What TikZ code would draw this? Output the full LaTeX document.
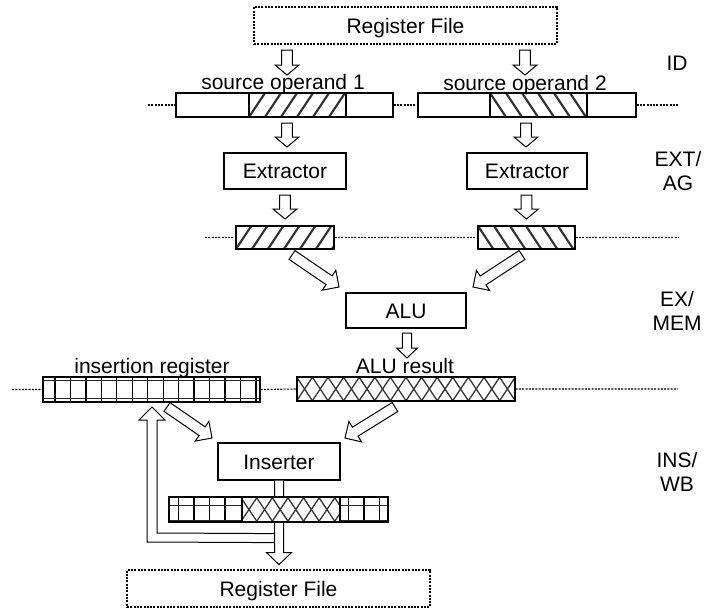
\documentclass[tikz,border=0pt]{standalone}
\usepackage{fontspec}
\setmainfont{Liberation Sans}
\usetikzlibrary{calc}
\tikzset{
  lbl/.style={font=\fontsize{21}{24}\selectfont, inner sep=0pt, text height=15pt, text depth=0pt},
  box/.style={lbl, draw, line width=1.2pt, minimum height=36pt},
  rfbox/.style={lbl, draw, line width=1.1pt, dash pattern=on 2pt off 1.3pt, minimum width=303pt, minimum height=37pt},
  bar/.style={draw, line width=1.2pt, inner sep=0pt, minimum height=24pt},
  dotline/.style={line width=1.1pt, dash pattern=on 2pt off 1.3pt},
  fat/.style={draw, line width=1pt, fill=white, line join=miter},
  fatline/.style={draw, line width=1pt, line join=miter},
  hatch/.style={line width=2.1pt, black!80},
  xhatch/.style={line width=1.3pt, black!80},
  gridv/.style={line width=1.3pt, black},
  gridh/.style={line width=1pt, black!85},
  stage/.style={font=\fontsize{21}{24}\selectfont, align=center, inner sep=0pt}
}
% block arrow: shaft half width, head half width, head length, from, to
\newcommand\fatarr[5]{%
  \coordinate (fH) at ($(#5)!#3!(#4)$);
  \draw[fat] ($(#4)!#1!90:(#5)$) -- ($(fH)!#1!-90:(#4)$) -- ($(fH)!#2!-90:(#4)$) -- (#5)
    -- ($(fH)!#2!90:(#4)$) -- ($(fH)!#1!90:(#4)$) -- ($(#4)!#1!-90:(#5)$) -- cycle;}
\begin{document}
\begin{tikzpicture}[x=1pt,y=-1pt]
\useasboundingbox (0,0) rectangle (704,608);

% ---------- hatching (drawn before the borders) ----------
\begin{scope}
  \clip (249,93) rectangle (346,117);
  \foreach \k in {233,249,...,350} \draw[hatch] (\k,117) -- ++(16,-24);
\end{scope}
\begin{scope}
  \clip (490,93) rectangle (587,117);
  \foreach \k in {474,490,...,590} \draw[hatch] (\k,93) -- ++(16,24);
\end{scope}
\begin{scope}
  \clip (236,226) rectangle (334,249);
  \foreach \k in {220,236,...,340} \draw[hatch] (\k,249) -- ++(15.3,-23);
\end{scope}
\begin{scope}
  \clip (478,226) rectangle (575,249);
  \foreach \k in {462,478,...,580} \draw[hatch] (\k,226) -- ++(15.3,23);
\end{scope}
\begin{scope}
  \clip (297,377) rectangle (515,401);
  \foreach \k in {281,296.6,...,520} {
    \draw[xhatch] (\k,401) -- ++(16,-24);
    \draw[xhatch] (\k,377) -- ++(16,24);
  }
\end{scope}
\begin{scope}
  \clip (43,377) rectangle (260,402);
  \foreach \k in {0,...,13} \draw[gridv] ({55+15.45*\k},377) -- ++(0,25);
  \draw[gridh] (43,380.5) -- (260,380.5) (43,398) -- (260,398);
\end{scope}

% ---------- boxes ----------
\node[rfbox] (rf1) at (405.5,25.5) {Register File};
\node[bar, minimum width=217pt] (op1) at (284.5,105) {};
\draw[line width=1.2pt] (249,93) -- (249,117) (346,93) -- (346,117);
\node[bar, minimum width=218pt] (op2) at (527,105) {};
\draw[line width=1.2pt] (490,93) -- (490,117) (587,93) -- (587,117);
\node[lbl] (op1l) at (283,82) {source operand 1};
\node[lbl] (op2l) at (525,82.5) {source operand 2};

\node[box, minimum width=122pt] (ext1) at (285,171) {Extractor};
\node[box, minimum width=120pt] (ext2) at (527,171) {Extractor};

\node[bar, minimum width=98pt, minimum height=23pt] (f1) at (285,237.5) {};
\node[bar, minimum width=97pt, minimum height=23pt] (f2) at (526.5,237.5) {};

\node[box, minimum width=120pt, minimum height=35pt] (alu) at (406,310.5) {ALU};

\node[bar, minimum width=218pt] (res) at (406,389) {};
\node[bar, minimum width=217pt, minimum height=25pt] (insreg) at (151.5,389.5) {};
\node[lbl] (insregl) at (152,366) {insertion register};
\node[lbl] (resl) at (405,366) {ALU result};

\node[box, minimum width=122pt, minimum height=37pt] (ins) at (279,461.5) {Inserter};

% ---------- inserter output and feedback ----------
\draw[fat] ($(ins.south)+(-4.5,0)$) -- ++(0,72) -- ++(-8,0) -- ++(12.5,12) -- ++(12.5,-12)
  -- ++(-8,0) -- ($(ins.south)+(4.5,0)$);
\coordinate (fbtip) at (152,407);
\draw[fatline] ($(ins.south)+(-4.5,62)$) -- ($(fbtip)+(-5,135)$) -- ($(fbtip)+(-5,13)$)
  -- ($(fbtip)+(-13,13)$) -- (fbtip) -- ($(fbtip)+(13,13)$) -- ($(fbtip)+(5,13)$)
  -- ($(fbtip)+(5,126)$) -- ($(ins.south)+(-4.5,53)$);

% ---------- bottom row ----------
\fill[white] (169,497) rectangle (388,522);
\begin{scope}
  \clip (242,497) rectangle (340,522);
  \foreach \k in {225,240.6,...,345} {
    \draw[xhatch] (\k,522) -- ++(16.7,-25);
    \draw[xhatch] (\k,497) -- ++(16.7,25);
  }
\end{scope}
\begin{scope}
  \clip (169,497) rectangle (242,522);
  \foreach \k in {0,...,3} \draw[gridv] ({178.6+15.45*\k},497) -- ++(0,25);
  \draw[gridh] (169,505) -- (242,505) (169,520) -- (242,520);
\end{scope}
\begin{scope}
  \clip (340,497) rectangle (388,522);
  \foreach \k in {0,...,2} \draw[gridv] ({348.6+15.45*\k},497) -- ++(0,25);
  \draw[gridh] (340,505) -- (388,505) (340,520) -- (388,520);
\end{scope}
\node[bar, minimum width=219pt, minimum height=25pt] (row) at (278.5,509.5) {};
\draw[line width=1.2pt] (242,497) -- (242,522) (340,497) -- (340,522);

\node[rfbox] (rf2) at (278.5,588.5) {Register File};

% ---------- dotted pipeline lines ----------
\coordinate (d1l) at (148,105);  \coordinate (d1r) at (678,105);
\coordinate (d2l) at (205,237.5); \coordinate (d2r) at (678,237.5);
\coordinate (d3l) at (12,389.5); \coordinate (d3r) at (678,389);
\draw[dotline] (d1l) -- (op1.west) (op1.east) -- (op2.west) (op2.east) -- (d1r);
\draw[dotline] (d2l) -- (f1.west) (f1.east) -- (f2.west) (f2.east) -- (d2r);
\draw[dotline] (d3l) -- (insreg.west) (insreg.east) -- (res.west) (res.east) -- (d3r);

% ---------- block arrows ----------
\coordinate (a1s) at (287,50);   \coordinate (a1e) at (287,75);
\coordinate (a2s) at (525,50);   \coordinate (a2e) at (525,75);
\coordinate (a3s) at (287,123);  \coordinate (a3e) at (287,147);
\coordinate (a4s) at (526,123);  \coordinate (a4e) at (526,147);
\coordinate (a5s) at (285,195);  \coordinate (a5e) at (285,219);
\coordinate (a6s) at (526.5,195); \coordinate (a6e) at (526.5,219);
\coordinate (a7s) at (292,255);  \coordinate (a7e) at (339,287);
\coordinate (a8s) at (522,255);  \coordinate (a8e) at (473,287);
\coordinate (a9s) at (407,333);  \coordinate (a9e) at (407,358);
\coordinate (a10s) at (167,407); \coordinate (a10e) at (212,438);
\coordinate (a11s) at (395,407); \coordinate (a11e) at (345,438);
\fatarr{5.3pt}{12pt}{10pt}{a1s}{a1e}
\fatarr{5.3pt}{12pt}{10pt}{a2s}{a2e}
\fatarr{5.3pt}{12pt}{10pt}{a3s}{a3e}
\fatarr{5.3pt}{12pt}{10pt}{a4s}{a4e}
\fatarr{5.3pt}{12pt}{10pt}{a5s}{a5e}
\fatarr{5.3pt}{12pt}{10pt}{a6s}{a6e}
\fatarr{5.3pt}{12pt}{12pt}{a7s}{a7e}
\fatarr{5.3pt}{12pt}{12pt}{a8s}{a8e}
\fatarr{4.7pt}{10.5pt}{10pt}{a9s}{a9e}
\fatarr{5.3pt}{12pt}{12pt}{a10s}{a10e}
\fatarr{5.3pt}{12pt}{12pt}{a11s}{a11e}

% ---------- stage labels ----------
\node[lbl] (sid) at (677,63) {ID};
\node[stage] (sext) at (678,171) {EXT/\\AG};
\node[stage] (sex) at (677,310.5) {EX/\\MEM};
\node[stage] (sins) at (677,472) {INS/\\WB};
\end{tikzpicture}
\end{document}
